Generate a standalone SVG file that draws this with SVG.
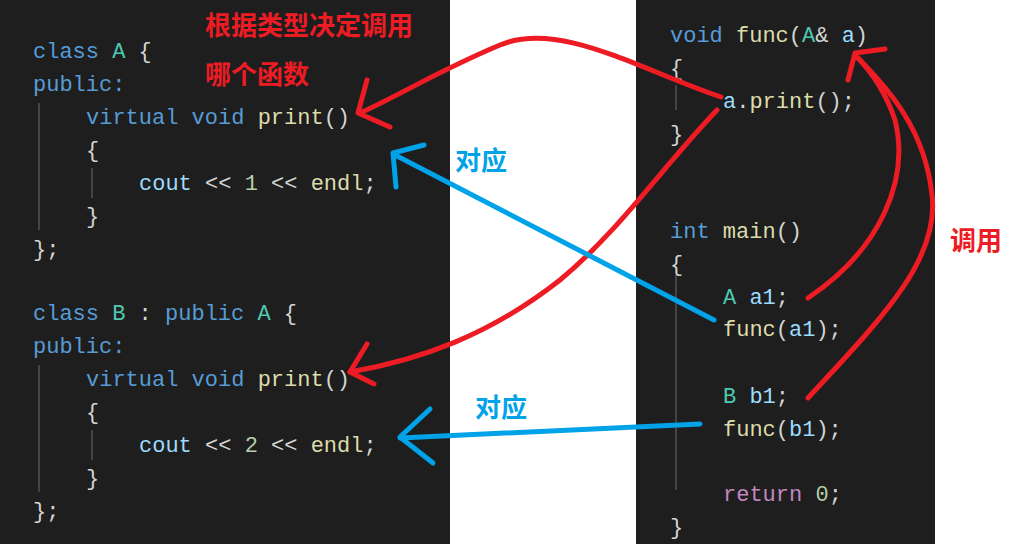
<svg xmlns="http://www.w3.org/2000/svg" width="1027" height="544" viewBox="0 0 1027 544">
<style>
.c{font-family:"Liberation Mono","Noto Sans CJK SC",monospace;font-size:22px;fill:#d4d4d4;white-space:pre}
.k{fill:#569cd6}.t{fill:#4ec9b0}.f{fill:#dcdcaa}.v{fill:#9cdcfe}.n{fill:#b5cea8}.r{fill:#c586c0}
.lab{font-family:"Noto Sans CJK SC",sans-serif;font-weight:bold;font-size:26px}
.red{fill:none;stroke:#ed1c24;stroke-width:5;stroke-linecap:round;stroke-linejoin:round}
.blue{fill:none;stroke:#00a2e8;stroke-width:5;stroke-linecap:round;stroke-linejoin:round}
.g{stroke:#444;stroke-width:2}
</style>
<rect width="1027" height="544" fill="#fff"/>
<rect x="0" y="0" width="450" height="544" fill="#1e1e1e"/>
<rect x="636" y="0" width="299" height="544" fill="#1e1e1e"/>
<g id="classA">
<line class="g" x1="39" y1="103" x2="39" y2="230"/><line class="g" x1="92" y1="168" x2="92" y2="198"/>
<text class="c" x="33" y="58"><tspan class="k">class</tspan> <tspan class="t">A</tspan> {</text>
<text class="c k" x="33" y="91">public:</text>
<text class="c" x="86" y="124"><tspan class="k">virtual void</tspan> <tspan class="f">print</tspan>()</text>
<text class="c" x="86" y="157">{</text>
<text class="c" x="139" y="190"><tspan class="v">cout</tspan> &lt;&lt; <tspan class="n">1</tspan> &lt;&lt; <tspan class="f">endl</tspan>;</text>
<text class="c" x="86" y="223">}</text>
<text class="c" x="33" y="256">};</text>
</g>
<g id="classB">
<line class="g" x1="39" y1="365" x2="39" y2="492"/><line class="g" x1="92" y1="430" x2="92" y2="460"/>
<text class="c" x="33" y="320"><tspan class="k">class</tspan> <tspan class="t">B</tspan> : <tspan class="k">public</tspan> <tspan class="t">A</tspan> {</text>
<text class="c k" x="33" y="353">public:</text>
<text class="c" x="86" y="386"><tspan class="k">virtual void</tspan> <tspan class="f">print</tspan>()</text>
<text class="c" x="86" y="419">{</text>
<text class="c" x="139" y="452"><tspan class="v">cout</tspan> &lt;&lt; <tspan class="n">2</tspan> &lt;&lt; <tspan class="f">endl</tspan>;</text>
<text class="c" x="86" y="485">}</text>
<text class="c" x="33" y="518">};</text>
</g>
<g id="func">
<line class="g" x1="676" y1="85" x2="676" y2="110"/>
<text class="c" x="670" y="42"><tspan class="k">void</tspan> <tspan class="f">func</tspan>(<tspan class="t">A</tspan>&amp; <tspan class="v">a</tspan>)</text>
<text class="c" x="670" y="75">{</text>
<text class="c" x="723" y="108"><tspan class="v">a</tspan>.<tspan class="f">print</tspan>();</text>
<text class="c" x="670" y="141">}</text>
</g>
<g id="main">
<line class="g" x1="676" y1="275" x2="676" y2="490"/>
<text class="c" x="670" y="238"><tspan class="k">int</tspan> <tspan class="f">main</tspan>()</text>
<text class="c" x="670" y="271">{</text>
<text class="c" x="723" y="304"><tspan class="t">A</tspan> <tspan class="v">a1</tspan>;</text>
<text class="c" x="723" y="336"><tspan class="f">func</tspan>(<tspan class="v">a1</tspan>);</text>
<text class="c" x="723" y="403"><tspan class="t">B</tspan> <tspan class="v">b1</tspan>;</text>
<text class="c" x="723" y="436"><tspan class="f">func</tspan>(<tspan class="v">b1</tspan>);</text>
<text class="c" x="723" y="501"><tspan class="r">return</tspan> <tspan class="n">0</tspan>;</text>
<text class="c" x="670" y="534">}</text>
</g>
<g id="connectors">
<path class="red" d="M721,97 C640,70 560,20 500,45 C440,70 400,95 360,113"/>
<path class="red" d="M367,80 L358,113 L390,127"/>
<path class="red" d="M717,110 C660,170 620,230 560,280 C490,335 420,360 350,372"/>
<path class="red" d="M367,344 L350,372 L374,384"/>
<path class="blue" d="M714,320 L395,155"/>
<path class="blue" d="M424,145 L393,153 L396,187"/>
<path class="blue" d="M700,424 L400,438"/>
<path class="blue" d="M430,409 L400,437 L433,463"/>
<path class="red" d="M808,298 C880,250 910,180 895,120 C885,90 870,70 855,55"/>
<path class="red" d="M808,398 C880,320 940,260 932,195 C925,130 890,90 855,55"/>
<path class="red" d="M885,49 L855,53 L848,80"/>
</g>
<text class="lab" x="205" y="35" fill="#ed1c24">根据类型决定调用</text>
<text class="lab" x="205" y="84" fill="#ed1c24">哪个函数</text>
<text class="lab" x="455" y="170" fill="#00a2e8">对应</text>
<text class="lab" x="475" y="417" fill="#00a2e8">对应</text>
<text class="lab" x="950" y="250" fill="#ed1c24">调用</text>
</svg>
